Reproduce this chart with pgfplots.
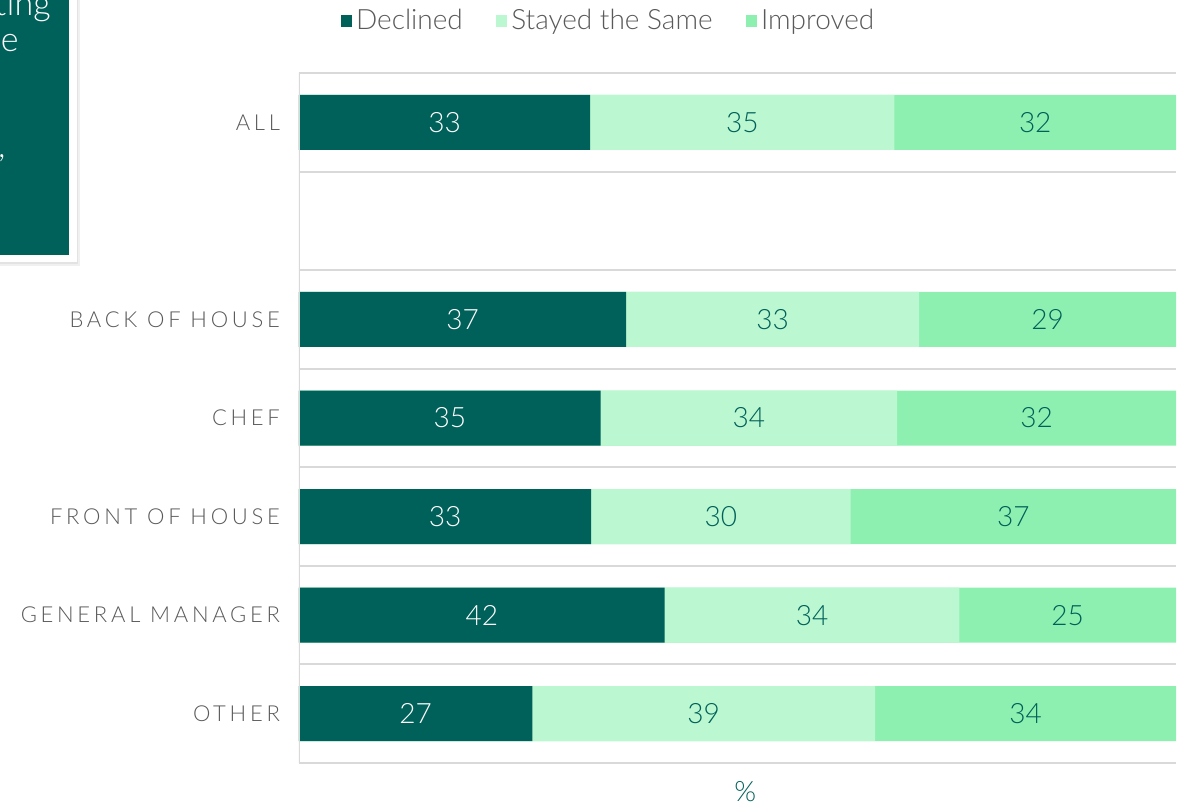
\documentclass[border=0pt]{standalone}
\usepackage{pgfplots}
\pgfplotsset{compat=1.18}
\usepackage{pgfplotstable}
\usepackage{fontspec}
\setmainfont{Lato}[UprightFont=* Light]
\newfontfamily\spaced{Lato}[UprightFont=* Light, LetterSpace=17]
\definecolor{dteal}{HTML}{00605A}
\definecolor{stay}{HTML}{BBF7D0}
\definecolor{impr}{HTML}{8EF0B0}
\definecolor{txtgray}{HTML}{595959}
\definecolor{gridgray}{HTML}{D9D9D9}

\pgfplotstableread{
y d s i dl sl il
0 33.2 34.7 32.1 33 35 32
2 37.3 33.4 29.3 37 33 29
3 34.4 33.8 31.8 35 34 32
4 33.3 29.6 37.1 33 30 37
5 41.7 33.6 24.7 42 34 25
6 26.6 39.1 34.3 27 39 34
}\datatable

\begin{document}
\begin{tikzpicture}
% cropped annotation box at top left
\fill[black!6] (-170pt,248.5pt) rectangle (-109.5pt,395pt);
\fill[black!11] (-170pt,249.5pt) rectangle (-110.5pt,395pt);
\fill[white] (-170pt,250.5pt) rectangle (-111pt,395pt);
\fill[dteal] (-170pt,254pt) rectangle (-115pt,395pt);
\node[anchor=base east, text=white, font=\fontsize{17}{19}\selectfont, inner sep=0pt] at (-124pt,373.5pt) {ting};
\node[anchor=base east, text=white, font=\fontsize{17}{19}\selectfont, inner sep=0pt] at (-140pt,355.5pt) {e};
\node[anchor=base east, text=white, font=\fontsize{17}{19}\selectfont, inner sep=0pt] at (-146.5pt,302.5pt) {,};

\begin{axis}[
  at={(0,0)}, anchor=south west,
  scale only axis, width=438.5pt, height=345pt,
  xmin=0, xmax=100, ymin=-0.5, ymax=6.5, y dir=reverse,
  axis line style={draw=none},
  xtick=\empty,
  ytick={0,...,6},
  yticklabels={ALL,{},BACK OF HOUSE,CHEF,FRONT OF HOUSE,GENERAL MANAGER,OTHER},
  yticklabel style={font=\spaced\fontsize{11}{13}\selectfont, text=txtgray, xshift=-6pt},
  major tick length=0pt, minor tick length=0pt,
  minor ytick={-0.5,0.5,...,6.5},
  yminorgrids, minor grid style={draw=gridgray, line width=1pt},
  xlabel={\%},
  xlabel style={at={(axis description cs:0.509,0)}, anchor=center, yshift=-14.5pt, font=\fontsize{14}{16}\selectfont, text=dteal},
  legend columns=3,
  reverse legend,
  legend style={at={(axis description cs:0.354,1.0754)}, anchor=center, draw=none, fill=none,
    font=\fontsize{14}{16}\selectfont, text=txtgray,
    /tikz/every even column/.append style={column sep=14.5pt}},
  legend image code/.code={\fill[#1,draw=none] (0pt,-3pt) rectangle (5.75pt,2.75pt);},
]
\addplot[xbar, bar width=27.5pt, bar shift=0pt, fill=impr, draw=none] table[x expr=\thisrow{d}+\thisrow{s}+\thisrow{i}, y=y]{\datatable};
\addlegendentry{Improved}
\addplot[xbar, bar width=27.5pt, bar shift=0pt, fill=stay, draw=none] table[x expr=\thisrow{d}+\thisrow{s}, y=y]{\datatable};
\addlegendentry{Stayed the Same}
\addplot[xbar, bar width=27.5pt, bar shift=0pt, fill=dteal, draw=none] table[x=d, y=y]{\datatable};
\addlegendentry{Declined}

\addplot[draw=none, mark=none, forget plot, nodes near coords, point meta=explicit symbolic,
  nodes near coords style={font=\fontsize{14}{16}\selectfont, text=white, anchor=center}]
  table[x expr=\thisrow{d}/2, y=y, meta=dl]{\datatable};
\addplot[draw=none, mark=none, forget plot, nodes near coords, point meta=explicit symbolic,
  nodes near coords style={font=\fontsize{14}{16}\selectfont, text=dteal, anchor=center}]
  table[x expr=\thisrow{d}+\thisrow{s}/2, y=y, meta=sl]{\datatable};
\addplot[draw=none, mark=none, forget plot, nodes near coords, point meta=explicit symbolic,
  nodes near coords style={font=\fontsize{14}{16}\selectfont, text=dteal, anchor=center}]
  table[x expr=\thisrow{d}+\thisrow{s}+\thisrow{i}/2, y=y, meta=il]{\datatable};

\draw[gridgray, line width=1pt] (axis cs:0,-0.5) -- (axis cs:0,6.5);
\end{axis}
\pgfresetboundingbox
\useasboundingbox (-149.5pt,-19.5pt) rectangle (442pt,381.5pt);
\end{tikzpicture}
\end{document}
